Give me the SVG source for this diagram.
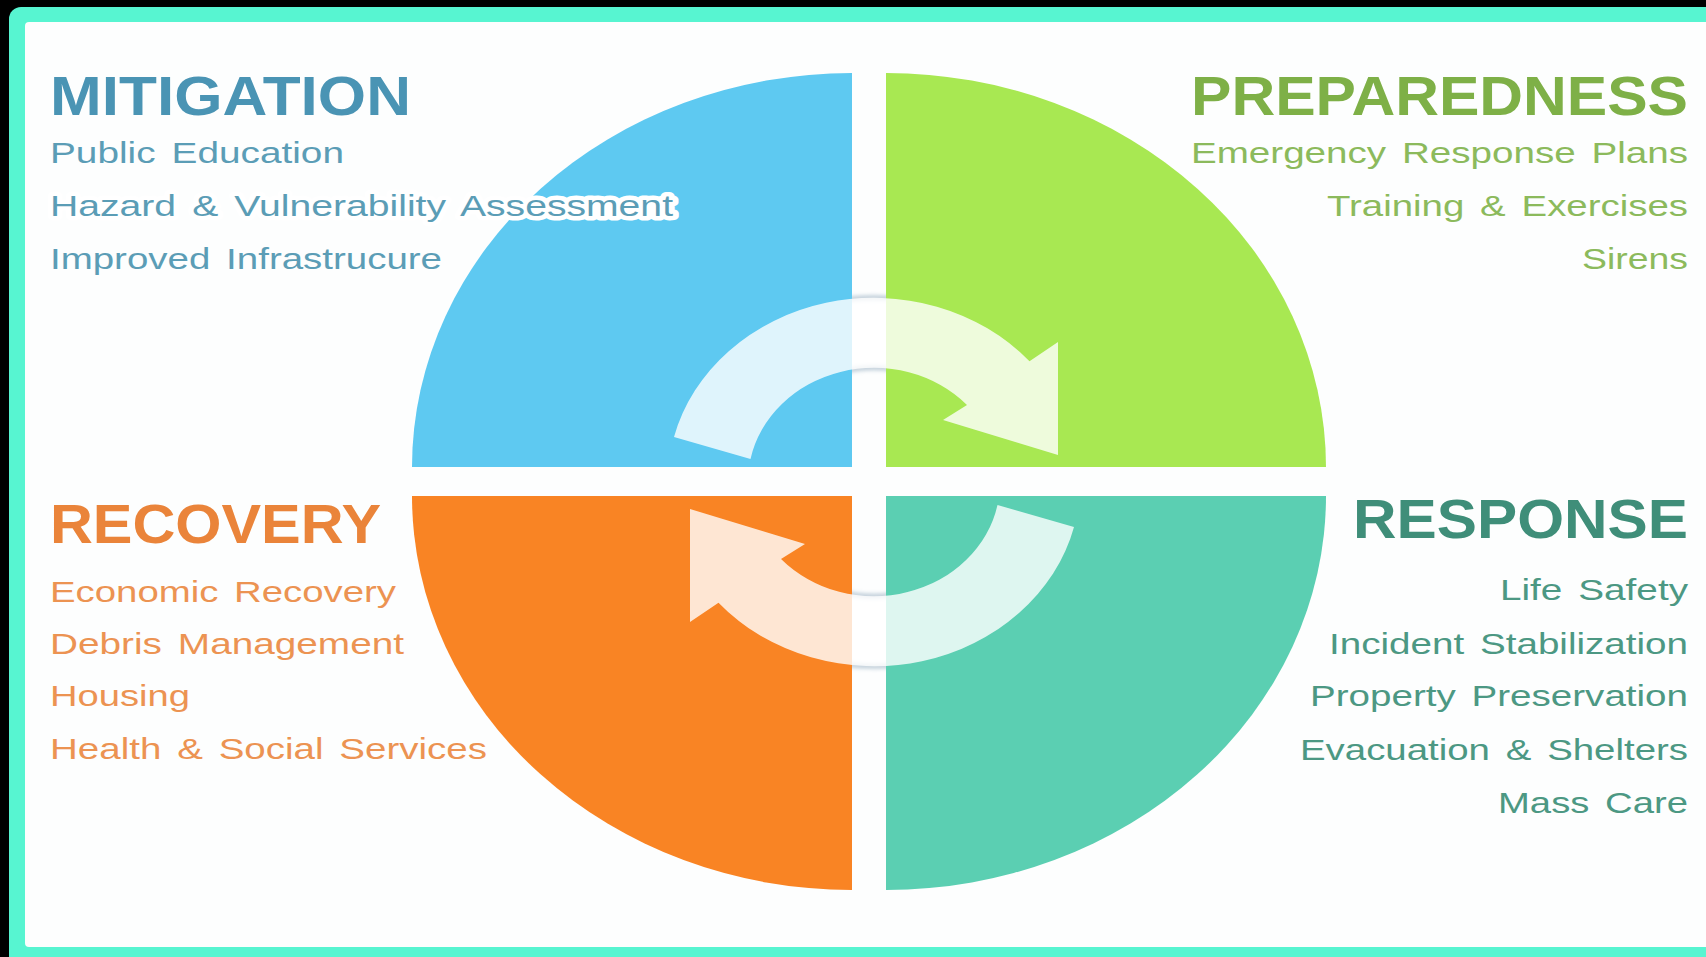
<svg xmlns="http://www.w3.org/2000/svg" width="1706" height="957" viewBox="0 0 1706 957">
<style>
.h{font-family:"Liberation Sans",Arial,sans-serif;font-weight:bold;font-size:56px}
.t{font-family:"Liberation Sans",Arial,sans-serif;font-size:30px;word-spacing:4px}
.mit{fill:#4a94b4}.miti{fill:#5b9db6}
.pre{fill:#7eb047}.prei{fill:#8cba5c}
.rec{fill:#ea843a}.reci{fill:#ec9352}
.res{fill:#3f8e79}.resi{fill:#4c9883}
.arrow{fill:#ffffff;fill-opacity:0.8}
</style>
<defs>
<path id="arr" d="M674,437 A206 184 0 0 1 1029.5,361.3 L1058,342 L1058,455 L943,420 L967,405 A126 114 0 0 0 750.5,459 Z"/>
<clipPath id="gapv"><rect x="852" y="0" width="34" height="957"/></clipPath>
<filter id="blur" x="-20%" y="-20%" width="140%" height="140%"><feGaussianBlur stdDeviation="2"/></filter>
</defs>
<rect width="1706" height="957" fill="#000"/>
<rect x="9" y="7" width="1720" height="970" rx="12" fill="#57f5d1"/>
<rect x="25" y="22" width="1700" height="925" rx="4" fill="#fdfefe"/>

<g id="mitigation">
<path d="M852,467 L852,73 A440 394 0 0 0 412,467 Z" fill="#5ec9f1"/>
<text class="h mit" x="50" y="115" textLength="361" lengthAdjust="spacingAndGlyphs">MITIGATION</text>
<text class="t miti" x="50" y="163" textLength="294" lengthAdjust="spacingAndGlyphs">Public Education</text>
<text class="t miti" x="50" y="216" textLength="623" lengthAdjust="spacingAndGlyphs" stroke="#ffffff" stroke-width="9" stroke-linejoin="round" paint-order="stroke">Hazard &amp; Vulnerability Assessment</text>
<text class="t miti" x="50" y="269" textLength="392" lengthAdjust="spacingAndGlyphs">Improved Infrastrucure</text>
</g>

<g id="preparedness">
<path d="M886,467 L886,73 A440 394 0 0 1 1326,467 Z" fill="#a8e852"/>
<text class="h pre" x="1191" y="115" textLength="497" lengthAdjust="spacingAndGlyphs">PREPAREDNESS</text>
<text class="t prei" x="1191" y="163" textLength="497" lengthAdjust="spacingAndGlyphs">Emergency Response Plans</text>
<text class="t prei" x="1327" y="216" textLength="361" lengthAdjust="spacingAndGlyphs">Training &amp; Exercises</text>
<text class="t prei" x="1582" y="269" textLength="106" lengthAdjust="spacingAndGlyphs">Sirens</text>
</g>

<g id="recovery">
<path d="M852,496 L412,496 A440 394 0 0 0 852,890 Z" fill="#f98424"/>
<text class="h rec" x="50" y="543" textLength="331" lengthAdjust="spacingAndGlyphs">RECOVERY</text>
<text class="t reci" x="50" y="602" textLength="346" lengthAdjust="spacingAndGlyphs">Economic Recovery</text>
<text class="t reci" x="50" y="654" textLength="354" lengthAdjust="spacingAndGlyphs">Debris Management</text>
<text class="t reci" x="50" y="706" textLength="140" lengthAdjust="spacingAndGlyphs">Housing</text>
<text class="t reci" x="50" y="759" textLength="437" lengthAdjust="spacingAndGlyphs">Health &amp; Social Services</text>
</g>

<g id="response">
<path d="M886,496 L1326,496 A440 394 0 0 1 886,890 Z" fill="#5bcfb2"/>
<text class="h res" x="1353" y="538" textLength="335" lengthAdjust="spacingAndGlyphs">RESPONSE</text>
<text class="t resi" x="1500" y="600" textLength="188" lengthAdjust="spacingAndGlyphs">Life Safety</text>
<text class="t resi" x="1329" y="654" textLength="359" lengthAdjust="spacingAndGlyphs">Incident Stabilization</text>
<text class="t resi" x="1310" y="706" textLength="378" lengthAdjust="spacingAndGlyphs">Property Preservation</text>
<text class="t resi" x="1300" y="760" textLength="388" lengthAdjust="spacingAndGlyphs">Evacuation &amp; Shelters</text>
<text class="t resi" x="1498" y="813" textLength="190" lengthAdjust="spacingAndGlyphs">Mass Care</text>
</g>

<g id="connectors">
<g clip-path="url(#gapv)" filter="url(#blur)">
<use href="#arr" fill="none" stroke="#8fa8bc" stroke-width="4" stroke-opacity="0.7"/>
<use href="#arr" transform="rotate(180 874 482)" fill="none" stroke="#8fa8bc" stroke-width="4" stroke-opacity="0.7"/>
</g>
<use href="#arr" class="arrow"/>
<use href="#arr" class="arrow" transform="rotate(180 874 482)"/>
</g>
</svg>
